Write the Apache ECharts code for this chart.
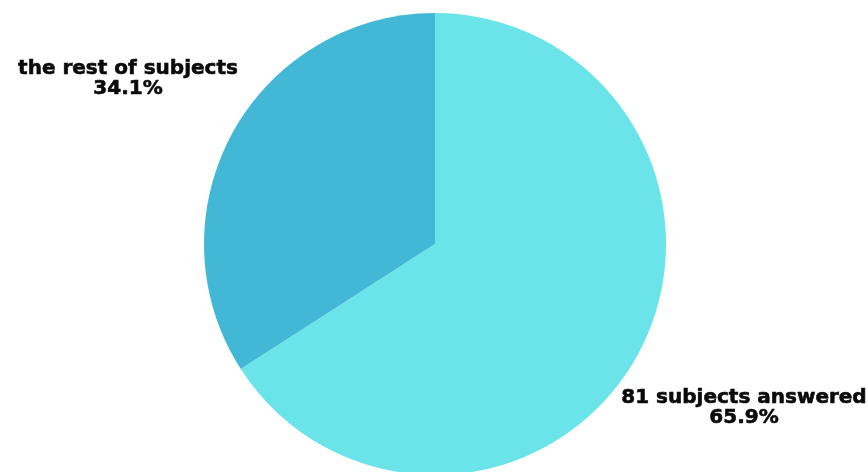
<!DOCTYPE html>
<html>
<head>
<meta charset="utf-8">
<script src="https://cdn.jsdelivr.net/npm/echarts@6/dist/echarts.min.js"></script>
<style>
html, body { margin: 0; padding: 0; background: #fff; }
#chart { width: 867px; height: 472px; }
</style>
</head>
<body>
<div id="chart"></div>
<script>
var names = ['81 subjects answered', 'the rest of subjects'];
var shares = [65.9, 34.1];
var colors = ['#6ae4e9', '#43b8d6'];
// where each label block sits (center), in px
var labelSpots = [[744, 408], [128, 79]];

var chart = echarts.init(document.getElementById('chart'));

var data = [];
for (var i = 0; i < names.length; i++) {
    data.push({ name: names[i], value: shares[i], itemStyle: { color: colors[i] } });
}

chart.setOption({
    animation: false,
    series: [{
        type: 'pie',
        center: [435, 244],
        radius: 231,
        startAngle: 90,
        clockwise: true,
        data: data,
        label: {
            show: true,
            position: 'outside',
            formatter: function (p) { return p.name + '\n' + p.value.toFixed(1) + '%'; },
            fontFamily: 'DejaVu Sans',
            fontWeight: 'bold',
            fontSize: 20,
            lineHeight: 20,
            color: '#0a0a0a',
            textBorderColor: '#0a0a0a',
            textBorderWidth: 0.6,
            align: 'center',
            overflow: 'none'
        },
        labelLine: { show: false },
        labelLayout: function (params) {
            var s = labelSpots[params.dataIndex];
            return { x: s[0], y: s[1], align: 'center', verticalAlign: 'middle' };
        },
        emphasis: { disabled: true }
    }]
});
</script>
</body>
</html>
